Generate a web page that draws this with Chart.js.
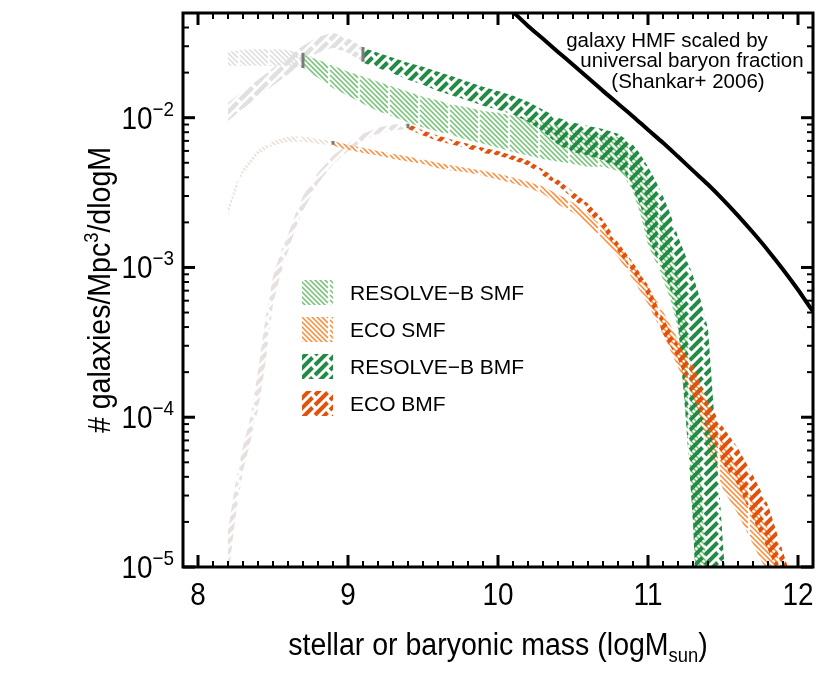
<!DOCTYPE html>
<html>
<head>
<meta charset="utf-8">
<script src="https://cdn.jsdelivr.net/npm/chart.js@4.4.0/dist/chart.umd.min.js"></script>
<style>
html, body { margin: 0; padding: 0; background: #fff; }
#wrap { width: 830px; height: 692px; position: relative; }
</style>
</head>
<body>
<div id="wrap"><canvas id="c"></canvas></div>
<script>
// values: x = log stellar/baryonic mass, y = #/Mpc^3/dlogM
const xTicks = [8, 9, 10, 11, 12];
const yTicks = [1e-5, 1e-4, 1e-3, 1e-2];
const yTickExp = ['\u22125', '\u22124', '\u22123', '\u22122'];

// galaxy HMF x universal baryon fraction (Shankar+ 2006)
const hmfX = [10.05, 10.1, 10.2, 10.3, 10.4, 10.5, 10.6, 10.7, 10.8, 10.9, 11.0, 11.1, 11.2, 11.3, 11.4, 11.5, 11.6, 11.7, 11.8, 11.9, 12.0, 12.1, 12.15];
const hmfY = [5.69e-2, 5.09e-2, 4.1e-2, 3.36e-2, 2.75e-2, 2.26e-2, 1.85e-2, 1.51e-2, 1.24e-2, 1.02e-2, 8.3e-3, 6.8e-3, 5.5e-3, 4.43e-3, 3.58e-3, 2.84e-3, 2.22e-3, 1.71e-3, 1.30e-3, 9.7e-4, 7.1e-4, 5.1e-4, 4.5e-4];

// RESOLVE-B SMF band
const rsX = [8.7, 8.8, 8.9, 9.0, 9.1, 9.2, 9.3, 9.4, 9.5, 9.6, 9.7, 9.8, 9.9, 10.0, 10.1, 10.2, 10.3, 10.4, 10.5, 10.6, 10.7, 10.8, 10.85, 10.9, 10.95, 11.0, 11.05, 11.1, 11.15, 11.2, 11.25, 11.3, 11.35, 11.4];
const rsHi = [2.63e-2, 2.44e-2, 2.22e-2, 2.03e-2, 1.88e-2, 1.74e-2, 1.61e-2, 1.49e-2, 1.38e-2, 1.30e-2, 1.22e-2, 1.17e-2, 1.11e-2, 1.08e-2, 1.03e-2, 1.0e-2, 9.4e-3, 8.8e-3, 8.3e-3, 7.9e-3, 7.7e-3, 7.4e-3, 6.8e-3, 6.1e-3, 4.9e-3, 3.9e-3, 2.8e-3, 2.1e-3, 1.42e-3, 9.0e-4, 4.5e-4, 1.79e-4, 4.5e-5, 6.1e-6];
const rsLo = [2.15e-2, 1.85e-2, 1.58e-2, 1.40e-2, 1.24e-2, 1.11e-2, 1.02e-2, 9.3e-3, 8.6e-3, 8.1e-3, 7.6e-3, 7.1e-3, 6.7e-3, 6.3e-3, 5.9e-3, 5.6e-3, 5.3e-3, 5.1e-3, 4.9e-3, 4.7e-3, 4.7e-3, 4.4e-3, 3.9e-3, 3.2e-3, 2.26e-3, 1.42e-3, 1.10e-3, 8.3e-4, 6.1e-4, 3.9e-4, 1.05e-4, 2.0e-5, 1.3e-6, 1e-6];

// RESOLVE-B BMF band
const rbX = [9.1, 9.2, 9.3, 9.4, 9.5, 9.6, 9.7, 9.8, 9.9, 10.0, 10.1, 10.2, 10.3, 10.4, 10.5, 10.6, 10.7, 10.8, 10.85, 10.9, 10.95, 11.0, 11.05, 11.1, 11.15, 11.2, 11.25, 11.3, 11.35, 11.4, 11.45, 11.5, 11.55];
const rbHi = [2.93e-2, 2.71e-2, 2.51e-2, 2.33e-2, 2.19e-2, 2.03e-2, 1.88e-2, 1.74e-2, 1.61e-2, 1.51e-2, 1.40e-2, 1.28e-2, 1.13e-2, 1.0e-2, 9.3e-3, 8.8e-3, 8.4e-3, 7.8e-3, 7.2e-3, 6.6e-3, 5.7e-3, 4.7e-3, 3.8e-3, 3.0e-3, 2.26e-3, 1.61e-3, 1.20e-3, 8.8e-4, 6.1e-4, 3.9e-4, 7.7e-5, 1.42e-5, 2.8e-6];
const rbLo = [2.33e-2, 2.15e-2, 1.97e-2, 1.79e-2, 1.66e-2, 1.51e-2, 1.40e-2, 1.30e-2, 1.20e-2, 1.13e-2, 1.05e-2, 9.4e-3, 8.1e-3, 6.6e-3, 5.9e-3, 5.6e-3, 5.2e-3, 4.6e-3, 4.2e-3, 3.3e-3, 2.6e-3, 1.61e-3, 1.20e-3, 9.7e-4, 7.1e-4, 4.3e-4, 1.05e-4, 2.0e-5, 1.3e-6, 1e-6, 1e-6, 1e-6, 1e-6];

// ECO SMF band
const esX = [8.9, 9.0, 9.1, 9.2, 9.3, 9.4, 9.5, 9.6, 9.7, 9.8, 9.9, 10.0, 10.1, 10.2, 10.3, 10.4, 10.5, 10.6, 10.7, 10.8, 10.9, 11.0, 11.1, 11.2, 11.3, 11.4, 11.5, 11.6, 11.7, 11.8, 11.9, 12.0];
const esHi = [7.0e-3, 6.6e-3, 6.3e-3, 6.0e-3, 5.75e-3, 5.5e-3, 5.25e-3, 5.0e-3, 4.8e-3, 4.6e-3, 4.43e-3, 4.23e-3, 3.98e-3, 3.74e-3, 3.47e-3, 3.07e-3, 2.71e-3, 2.29e-3, 1.85e-3, 1.42e-3, 1.05e-3, 7.4e-4, 5.1e-4, 3.3e-4, 2.09e-4, 1.22e-4, 7.1e-5, 4.5e-5, 2.84e-5, 1.79e-5, 1.05e-5, 5.2e-6];
const esLo = [6.5e-3, 6.1e-3, 5.8e-3, 5.6e-3, 5.3e-3, 5.1e-3, 4.9e-3, 4.6e-3, 4.43e-3, 4.3e-3, 4.1e-3, 3.86e-3, 3.63e-3, 3.41e-3, 3.11e-3, 2.63e-3, 2.33e-3, 1.94e-3, 1.54e-3, 1.17e-3, 8.3e-4, 5.7e-4, 3.6e-4, 2.15e-4, 1.32e-4, 6.1e-5, 3.3e-5, 2.26e-5, 1.42e-5, 9.0e-6, 4.9e-6, 2.4e-6];

// ECO BMF band
const ebX = [9.4, 9.5, 9.6, 9.7, 9.8, 9.9, 10.0, 10.1, 10.2, 10.3, 10.4, 10.5, 10.6, 10.7, 10.8, 10.9, 11.0, 11.1, 11.2, 11.3, 11.4, 11.5, 11.6, 11.7, 11.8, 11.9, 12.0];
const ebHi = [9.1e-3, 8.2e-3, 7.6e-3, 7.1e-3, 6.7e-3, 6.3e-3, 6.0e-3, 5.6e-3, 5.2e-3, 4.5e-3, 3.86e-3, 3.2e-3, 2.67e-3, 2.09e-3, 1.47e-3, 1.08e-3, 7.6e-4, 4.6e-4, 3.07e-4, 2.26e-4, 1.26e-4, 8.6e-5, 6.2e-5, 4.1e-5, 2.59e-5, 1.26e-5, 6.1e-6];
const ebLo = [8.4e-3, 7.6e-3, 7.0e-3, 6.6e-3, 6.2e-3, 5.8e-3, 5.6e-3, 5.2e-3, 4.8e-3, 4.1e-3, 3.52e-3, 2.88e-3, 2.36e-3, 1.82e-3, 1.28e-3, 9.3e-4, 6.4e-4, 3.6e-4, 2.44e-4, 1.38e-4, 8.3e-5, 4.9e-5, 3.5e-5, 2.09e-5, 1.3e-5, 7.7e-6, 3.3e-6];

// grey (incomplete) extensions
const grsX = [8.2, 8.3, 8.4, 8.5, 8.6, 8.7];
const grsHi = [2.75e-2, 2.84e-2, 2.88e-2, 2.88e-2, 2.84e-2, 2.63e-2];
const grsLo = [2.22e-2, 2.22e-2, 2.22e-2, 2.22e-2, 2.22e-2, 2.15e-2];
const grbX = [8.2, 8.3, 8.4, 8.5, 8.6, 8.7, 8.8, 8.9, 9.0, 9.1];
const grbHi = [1.26e-2, 1.51e-2, 1.79e-2, 2.15e-2, 2.55e-2, 3.02e-2, 3.47e-2, 3.69e-2, 3.41e-2, 2.93e-2];
const grbLo = [9.5e-3, 1.15e-2, 1.36e-2, 1.64e-2, 1.94e-2, 2.33e-2, 2.71e-2, 2.93e-2, 2.71e-2, 2.33e-2];
const gesX = [8.2, 8.25, 8.3, 8.4, 8.5, 8.6, 8.7, 8.8, 8.9];
const gesHi = [2.51e-3, 3.58e-3, 4.6e-3, 6.1e-3, 7.0e-3, 7.5e-3, 7.5e-3, 7.2e-3, 7.0e-3];
const gesLo = [2.22e-3, 3.2e-3, 4.23e-3, 5.7e-3, 6.5e-3, 6.9e-3, 6.9e-3, 6.7e-3, 6.5e-3];
const gebX = [8.2, 8.25, 8.3, 8.35, 8.4, 8.45, 8.5, 8.55, 8.6, 8.65, 8.7, 8.8, 8.9, 9.0, 9.1, 9.2, 9.3, 9.4];
const gebHi = [1.79e-5, 3.6e-5, 6.4e-5, 1.0e-4, 2.03e-4, 4.6e-4, 8.7e-4, 1.26e-3, 1.66e-3, 2.29e-3, 3.0e-3, 4.3e-3, 5.6e-3, 6.7e-3, 7.8e-3, 8.6e-3, 9.0e-3, 9.1e-3];
const gebLo = [8.3e-6, 2.15e-5, 4.4e-5, 6.9e-5, 1.13e-4, 2.29e-4, 5.7e-4, 9.0e-4, 1.28e-3, 1.82e-3, 2.4e-3, 3.63e-3, 4.9e-3, 6.0e-3, 7.0e-3, 7.8e-3, 8.2e-3, 8.4e-3];

// completeness marks (start of each coloured band)
const markX = [8.7, 9.1, 8.9, 9.4];
const markHi = [2.71e-2, 2.97e-2, 7.0e-3, 9.1e-3];
const markLo = [2.15e-2, 2.36e-2, 6.6e-3, 8.5e-3];

const legendLabels = ['RESOLVE\u2212B SMF', 'ECO SMF', 'RESOLVE\u2212B BMF', 'ECO BMF'];
const noteLines = ['galaxy HMF scaled by', 'universal baryon fraction', '(Shankar+ 2006)'];

const FONT = "'Liberation Sans', Arial, Helvetica, sans-serif";

// diagonal hatch tile; dir>0 is "/", dir<0 is "\"
function hatch(color, dir, p, lw, dash) {
  const n = 30;
  const t = document.createElement('canvas');
  t.width = n; t.height = n;
  const g = t.getContext('2d');
  g.strokeStyle = color;
  g.lineWidth = lw;
  if (dash) g.setLineDash(dash);
  for (let c = -2 * n; c <= 3 * n; c += p) {
    g.beginPath();
    if (dir > 0) { g.moveTo(-2 * n, c + 2 * n); g.lineTo(3 * n, c - 3 * n); }
    else { g.moveTo(-2 * n, c - 2 * n); g.lineTo(3 * n, c + 3 * n); }
    g.stroke();
  }
  return g.createPattern(t, 'repeat');
}

const P = Math.SQRT2 * 15; // half of the tile diagonal
const pat = {
  rs: hatch('#74c476', -1, 5, 1.5, [2 * P - 3, 3]),
  es: hatch('#fd8d3c', -1, 5, 1.5, [2 * P - 3, 3]),
  rb: hatch('#238b45', 1, 10, 4, [P - 3.5, 3.5]),
  eb: hatch('#e0520e', 1, 10, 4, [P - 3.5, 3.5]),
  grs: hatch('#dedede', -1, 5, 1.5, [2 * P - 3, 3]),
  ges: hatch('#eaded8', -1, 5, 1.5, [2 * P - 3, 3]),
  grb: hatch('#e0e0e0', 1, 10, 4.5, [P - 3.5, 3.5]),
  geb: hatch('#e6e0de', 1, 10, 4.5, [P - 3.5, 3.5])
};

const pts = (xs, ys) => xs.map((x, i) => ({x: x, y: ys[i]}));
const NONE = 'rgba(0,0,0,0)';

function band(label, xs, hi, lo, fillPat) {
  return [
    {label: label, data: pts(xs, hi), fill: '+1', backgroundColor: fillPat, borderColor: NONE, borderWidth: 0, pointRadius: 0},
    {label: label + ' lo', data: pts(xs, lo), fill: false, borderColor: NONE, borderWidth: 0, pointRadius: 0}
  ];
}

const datasets = [];
markX.forEach((x, i) => datasets.push({
  label: 'mark' + i, data: [{x: x, y: markHi[i]}, {x: x, y: markLo[i]}],
  borderColor: '#7b7b7b', borderWidth: 3, pointRadius: 0, fill: false
}));
datasets.push({label: 'HMF', data: pts(hmfX, hmfY), borderColor: '#000', borderWidth: 4, pointRadius: 0,
  fill: false, clip: 0, cubicInterpolationMode: 'monotone'});
datasets.push(...band('ECO BMF', ebX, ebHi, ebLo, pat.eb));
datasets.push(...band('RESOLVE-B BMF', rbX, rbHi, rbLo, pat.rb));
datasets.push(...band('ECO SMF', esX, esHi, esLo, pat.es));
datasets.push(...band('RESOLVE-B SMF', rsX, rsHi, rsLo, pat.rs));
datasets.push(...band('ECO BMF grey', gebX, gebHi, gebLo, pat.geb));
datasets.push(...band('RESOLVE-B BMF grey', grbX, grbHi, grbLo, pat.grb));
datasets.push(...band('ECO SMF grey', gesX, gesHi, gesLo, pat.ges));
datasets.push(...band('RESOLVE-B SMF grey', grsX, grsHi, grsLo, pat.grs));

function rich(ctx, parts, x, y, align, sx) {
  let w = 0;
  parts.forEach(p => { ctx.font = p.size + 'px ' + FONT; p.w = ctx.measureText(p.t).width * sx; w += p.w; });
  let cx = align === 'center' ? x - w / 2 : align === 'right' ? x - w : x;
  ctx.textAlign = 'left';
  parts.forEach(p => {
    ctx.font = p.size + 'px ' + FONT;
    ctx.save();
    ctx.translate(cx, y + (p.dy || 0));
    ctx.scale(sx, 1);
    ctx.fillText(p.t, 0, 0);
    ctx.restore();
    cx += p.w;
  });
}

const framePlugin = {
  id: 'frame',
  afterDraw(chart) {
    const {ctx, chartArea: a} = chart;
    const xs = chart.scales.x, ys = chart.scales.y;
    ctx.save();
    ctx.strokeStyle = '#000';
    ctx.fillStyle = '#000';
    const seg = (x1, y1, x2, y2) => { ctx.beginPath(); ctx.moveTo(x1, y1); ctx.lineTo(x2, y2); ctx.stroke(); };

    // x minor/major ticks, pointing inwards
    for (let k = 79; k <= 121; k++) {
      const v = k / 10;
      const major = k % 10 === 0;
      const px = xs.getPixelForValue(v);
      const len = major ? 12 : 6;
      ctx.lineWidth = major ? 3 : 2;
      seg(px, a.bottom, px, a.bottom - len);
      seg(px, a.top, px, a.top + len);
    }
    // y ticks
    for (let e = -6; e <= -1; e++) {
      for (let m = 1; m <= 9; m++) {
        const v = m * Math.pow(10, e);
        if (v < ys.min * 0.999 || v > ys.max * 1.001) continue;
        const py = ys.getPixelForValue(v);
        const len = m === 1 ? 12 : 6;
        ctx.lineWidth = m === 1 ? 3 : 2;
        seg(a.left, py, a.left + len, py);
        seg(a.right, py, a.right - len, py);
      }
    }
    ctx.lineWidth = 3;
    ctx.strokeRect(a.left, a.top, a.right - a.left, a.bottom - a.top);

    // tick labels
    ctx.textBaseline = 'alphabetic';
    xTicks.forEach(v => {
      rich(ctx, [{t: String(v), size: 31}], xs.getPixelForValue(v), 605, 'center', 0.9);
    });
    yTicks.forEach((v, i) => {
      const py = ys.getPixelForValue(v);
      rich(ctx, [{t: '10', size: 31}, {t: yTickExp[i], size: 21, dy: -13}], 174, py + 11, 'right', 0.9);
    });

    // axis titles
    rich(ctx, [{t: 'stellar or baryonic mass (logM', size: 31}, {t: 'sun', size: 20, dy: 7}, {t: ')', size: 31}],
      (a.left + a.right) / 2, 655, 'center', 0.92);
    ctx.save();
    ctx.translate(110, (a.top + a.bottom) / 2);
    ctx.rotate(-Math.PI / 2);
    rich(ctx, [{t: '# galaxies/Mpc', size: 31}, {t: '3', size: 20, dy: -12}, {t: '/dlogM', size: 31}], 0, 0, 'center', 0.92);
    ctx.restore();

    // legend
    const pats = [pat.rs, pat.es, pat.rb, pat.eb];
    legendLabels.forEach((lab, i) => {
      const top = 280 + i * 37;
      ctx.fillStyle = pats[i];
      ctx.fillRect(302, top, 31, 25);
      ctx.fillStyle = '#000';
      rich(ctx, [{t: lab, size: 21}], 350, top + 20, 'left', 1);
    });

    // HMF note
    const noteX = [667, 692, 688];
    const noteY = [47, 67, 88];
    noteLines.forEach((t, i) => rich(ctx, [{t: t, size: 20.5}], noteX[i], noteY[i], 'center', 1));
    ctx.restore();
  }
};

new Chart(document.getElementById('c'), {
  type: 'line',
  data: {datasets: datasets},
  options: {
    responsive: true,
    maintainAspectRatio: false,
    animation: false,
    devicePixelRatio: 1,
    layout: {padding: {left: 183, top: 13, right: 17, bottom: 125}},
    plugins: {legend: {display: false}, tooltip: {enabled: false}},
    elements: {line: {tension: 0}},
    scales: {
      x: {type: 'linear', min: 7.9, max: 12.1, display: false},
      y: {type: 'logarithmic', min: 1e-5, max: 5e-2, display: false}
    }
  },
  plugins: [framePlugin]
});
</script>
</body>
</html>
